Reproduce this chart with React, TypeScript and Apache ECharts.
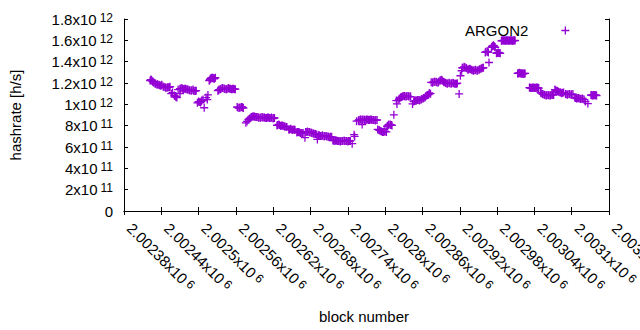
import React, { useEffect, useRef } from 'react';
import * as echarts from 'echarts';

const seriesName = 'ARGON2';
const xAxisTitle = 'block number';
const yAxisTitle = 'hashrate [h/s]';

const xMin = 2002380;
const xMax = 2003160;
const xStep = 60;
const yMin = 0;
const yMax = 1.8e12;
const yStep = 2e11;

// block numbers
const blocks = [
  2002422, 2002424, 2002426, 2002428,
  2002430, 2002433, 2002436, 2002439, 2002441,
  2002443, 2002446, 2002449, 2002452, 2002454,
  2002456, 2002458, 2002461, 2002463, 2002465, 2002470,
  2002467, 2002470, 2002473, 2002476, 2002479, 2002482, 2002485, 2002488, 2002491, 2002494, 2002496,
  2002498, 2002500, 2002503, 2002505, 2002507, 2002509, 2002512, 2002514, 2002515,
  2002517, 2002519, 2002521, 2002523, 2002525, 2002527,
  2002531, 2002533, 2002536, 2002539, 2002542, 2002545, 2002548, 2002551, 2002554, 2002556, 2002559,
  2002562, 2002565, 2002568, 2002570, 2002572,
  2002576, 2002578, 2002580, 2002582, 2002584, 2002587, 2002590, 2002593, 2002596, 2002599, 2002602, 2002605, 2002608, 2002611, 2002614, 2002617, 2002620, 2002622,
  2002626, 2002629, 2002632, 2002635, 2002638, 2002641,
  2002645, 2002648, 2002651, 2002654,
  2002658, 2002661, 2002664, 2002667, 2002671,
  2002672, 2002675, 2002678, 2002681, 2002684, 2002687, 2002690, 2002691,
  2002693, 2002696, 2002699, 2002702, 2002705, 2002708, 2002711, 2002714,
  2002716, 2002719, 2002722, 2002725, 2002728, 2002731, 2002734, 2002737, 2002740, 2002743, 2002747, 2002750, 2002751, 2002754,
  2002757, 2002760, 2002763, 2002763, 2002766, 2002769, 2002772, 2002775, 2002778, 2002781, 2002784, 2002787, 2002788,
  2002790, 2002793, 2002796, 2002799, 2002802,
  2002803, 2002805, 2002808, 2002811, 2002814, 2002818, 2002819,
  2002822, 2002825, 2002828, 2002831, 2002834, 2002837, 2002840, 2002844,
  2002846, 2002849, 2002852, 2002855, 2002858,
  2002861, 2002864, 2002867, 2002870, 2002871, 2002873, 2002874,
  2002876, 2002879, 2002882, 2002885, 2002888, 2002891, 2002894, 2002897, 2002900, 2002903, 2002906, 2002909, 2002912, 2002915, 2002919, 2002921, 2002923,
  2002924, 2002927, 2002930, 2002933, 2002936, 2002939, 2002942, 2002945, 2002948, 2002951, 2002954, 2002957,
  2002961, 2002964, 2002967, 2002966, 2002971, 2002974, 2002977, 2002979, 2002982, 2002985,
  2002987, 2002990, 2002993, 2002996, 2002999, 2003002, 2003005, 2003008,
  2003013, 2003016, 2003019, 2003022, 2003025,
  2003032, 2003035, 2003038, 2003041, 2003044, 2003047,
  2003050, 2003053, 2003056, 2003059, 2003062, 2003065, 2003068, 2003071,
  2003073, 2003076, 2003079,
  2003081, 2003084, 2003087,
  2003090, 2003093, 2003096, 2003099, 2003102,
  2003105, 2003108, 2003111, 2003114, 2003117, 2003120, 2003122, 2003126,
  2003131, 2003134, 2003137, 2003140,
];

// hashrate in units of 10^12 h/s
const hashrateE12 = [
  1.222, 1.231, 1.212, 1.203,
  1.194, 1.184, 1.184, 1.175, 1.184,
  1.166, 1.161, 1.156, 1.161, 1.166,
  1.100, 1.110, 1.082, 1.073, 1.063, 1.100,
  1.138, 1.147, 1.152, 1.142, 1.147, 1.138, 1.133, 1.128, 1.138, 1.124, 1.128,
  1.014, 1.026, 1.017, 1.035, 1.045, 0.968, 1.063, 1.045, 1.088,
  1.222, 1.240, 1.250, 1.250, 1.240, 1.250,
  1.128, 1.138, 1.147, 1.152, 1.147, 1.142, 1.152, 1.147, 1.142, 1.147, 1.142,
  0.975, 0.965, 0.970, 0.975, 0.965,
  0.827, 0.840, 0.858, 0.867, 0.877, 0.886, 0.886, 0.881, 0.877, 0.872, 0.881, 0.877, 0.872, 0.877, 0.872, 0.877, 0.867, 0.872,
  0.802, 0.811, 0.797, 0.802, 0.792, 0.788,
  0.765, 0.770, 0.760, 0.765,
  0.737, 0.741, 0.732, 0.727, 0.687,
  0.741, 0.746, 0.741, 0.737, 0.727, 0.723, 0.718, 0.671,
  0.709, 0.704, 0.709, 0.699, 0.704, 0.699, 0.690, 0.695,
  0.662, 0.657, 0.662, 0.657, 0.652, 0.657, 0.662, 0.657, 0.652, 0.657, 0.631, 0.716, 0.699, 0.842,
  0.849, 0.858, 0.811, 0.853, 0.858, 0.853, 0.858, 0.853, 0.858, 0.853, 0.849, 0.853, 0.765,
  0.760, 0.751, 0.741, 0.746, 0.741,
  0.792, 0.806, 0.811, 0.802, 0.902, 1.035, 1.004,
  1.045, 1.063, 1.073, 1.077, 1.073, 1.077, 1.073, 1.004,
  1.026, 1.035, 1.040, 1.035, 1.045,
  1.054, 1.063, 1.082, 1.091, 1.107, 1.100, 1.206,
  1.203, 1.212, 1.212, 1.203, 1.222, 1.231, 1.212, 1.203, 1.194, 1.203, 1.194, 1.203, 1.194, 1.194, 1.098, 1.268, 1.315,
  1.343, 1.352, 1.343, 1.325, 1.334, 1.325, 1.315, 1.325, 1.315, 1.325, 1.334, 1.343,
  1.487, 1.496, 1.392, 1.487, 1.534, 1.553, 1.534, 1.478, 1.487, 1.478,
  1.595, 1.600, 1.595, 1.600, 1.595, 1.600, 1.595, 1.600,
  1.290, 1.295, 1.290, 1.285, 1.290,
  1.157, 1.152, 1.157, 1.152, 1.157, 1.152,
  1.110, 1.096, 1.091, 1.082, 1.087, 1.082, 1.091, 1.087,
  1.138, 1.128, 1.119,
  1.114, 1.105, 1.110,
  1.096, 1.091, 1.096, 1.091, 1.096,
  1.063, 1.054, 1.059, 1.049, 1.054, 1.045, 1.026, 1.007,
  1.087, 1.082, 1.087, 1.082,
];

// further blocks inside the dense bands: [block number, hashrate in 10^12 h/s]
const denseBandPoints: [number, number][] = [
  [2002423, 1.231], [2002425, 1.222], [2002427, 1.212],
  [2002431, 1.194], [2002434, 1.189], [2002437, 1.180], [2002440, 1.180],
  [2002444, 1.166], [2002447, 1.156], [2002450, 1.161], [2002453, 1.161],
  [2002462, 1.077], [2002464, 1.068],
  [2002471, 1.147], [2002474, 1.147], [2002477, 1.147], [2002480, 1.142], [2002483, 1.138], [2002486, 1.133], [2002489, 1.133], [2002492, 1.128], [2002495, 1.128],
  [2002501, 1.021], [2002504, 1.026],
  [2002518, 1.231], [2002520, 1.245], [2002522, 1.245], [2002524, 1.245], [2002526, 1.245],
  [2002532, 1.133], [2002535, 1.142], [2002538, 1.152], [2002541, 1.147], [2002544, 1.142], [2002547, 1.147], [2002550, 1.147], [2002553, 1.142], [2002555, 1.147], [2002558, 1.142],
  [2002563, 0.970], [2002566, 0.970], [2002569, 0.975], [2002571, 0.970],
  [2002585, 0.881], [2002588, 0.886], [2002591, 0.881], [2002594, 0.881], [2002597, 0.877], [2002600, 0.877], [2002603, 0.877], [2002606, 0.877], [2002609, 0.872], [2002612, 0.877], [2002615, 0.872], [2002618, 0.872], [2002621, 0.872],
  [2002627, 0.806], [2002630, 0.806], [2002633, 0.802], [2002636, 0.797], [2002639, 0.792], [2002642, 0.788],
  [2002646, 0.765], [2002649, 0.765], [2002652, 0.765], [2002655, 0.760],
  [2002659, 0.741], [2002662, 0.737], [2002665, 0.732], [2002668, 0.732],
  [2002673, 0.741], [2002676, 0.741], [2002679, 0.737], [2002682, 0.732], [2002685, 0.727], [2002688, 0.723],
  [2002694, 0.709], [2002697, 0.704], [2002700, 0.704], [2002703, 0.704], [2002706, 0.699], [2002709, 0.695], [2002712, 0.695],
  [2002717, 0.662], [2002720, 0.662], [2002723, 0.657], [2002726, 0.657], [2002729, 0.657], [2002732, 0.657], [2002735, 0.657], [2002738, 0.657], [2002741, 0.657], [2002744, 0.657],
  [2002758, 0.853], [2002761, 0.858], [2002764, 0.858], [2002767, 0.853], [2002770, 0.858], [2002773, 0.853], [2002776, 0.858], [2002779, 0.853], [2002782, 0.853], [2002785, 0.853],
  [2002791, 0.755], [2002794, 0.746], [2002797, 0.741], [2002800, 0.746],
  [2002804, 0.797], [2002806, 0.811], [2002809, 0.806], [2002810, 0.806],
  [2002823, 1.054], [2002826, 1.068], [2002829, 1.077], [2002832, 1.073], [2002835, 1.077], [2002838, 1.073], [2002841, 1.073],
  [2002847, 1.031], [2002850, 1.035], [2002853, 1.040], [2002856, 1.040], [2002859, 1.049],
  [2002862, 1.059], [2002865, 1.073], [2002868, 1.087],
  [2002877, 1.208], [2002880, 1.212], [2002883, 1.208], [2002886, 1.212], [2002889, 1.226], [2002892, 1.222], [2002895, 1.208], [2002898, 1.198], [2002901, 1.198], [2002904, 1.198], [2002907, 1.198], [2002910, 1.198], [2002913, 1.194], [2002916, 1.198],
  [2002925, 1.343], [2002928, 1.348], [2002931, 1.338], [2002934, 1.329], [2002937, 1.329], [2002940, 1.320], [2002943, 1.320], [2002946, 1.320], [2002949, 1.320], [2002952, 1.329], [2002955, 1.338], [2002958, 1.343],
  [2002962, 1.492], [2002965, 1.492], [2002972, 1.543], [2002973, 1.548], [2002975, 1.548], [2002976, 1.539], [2002980, 1.482], [2002981, 1.482], [2002983, 1.482], [2002984, 1.482],
  [2002988, 1.598], [2002989, 1.598], [2002991, 1.598], [2002992, 1.598], [2002994, 1.598], [2002995, 1.598], [2002997, 1.598], [2002998, 1.598], [2003000, 1.598], [2003001, 1.598], [2003003, 1.598], [2003004, 1.598], [2003006, 1.598], [2003007, 1.598], [2003009, 1.598],
  [2003014, 1.290], [2003015, 1.292], [2003017, 1.292], [2003018, 1.290], [2003020, 1.288], [2003021, 1.288], [2003023, 1.288], [2003024, 1.290],
  [2003033, 1.155], [2003034, 1.155], [2003036, 1.155], [2003037, 1.155], [2003039, 1.155], [2003040, 1.155], [2003042, 1.155], [2003043, 1.155], [2003045, 1.155], [2003046, 1.155],
  [2003051, 1.105], [2003054, 1.094], [2003057, 1.087], [2003060, 1.085], [2003063, 1.085], [2003066, 1.085], [2003069, 1.089],
  [2003074, 1.133], [2003077, 1.124],
  [2003082, 1.110], [2003085, 1.108],
  [2003091, 1.094], [2003094, 1.094], [2003097, 1.094], [2003100, 1.094],
  [2003106, 1.059], [2003109, 1.056], [2003112, 1.054], [2003115, 1.052], [2003118, 1.050],
  [2003132, 1.085], [2003133, 1.085], [2003135, 1.085], [2003136, 1.085], [2003138, 1.085], [2003139, 1.085],
];

const FONT = '"Liberation Sans", Arial, sans-serif';
const COLOR = '#9400d3';
const PLUS = 'path://M0,3.35L8,3.35L8,4.65L0,4.65Z M3.35,0L4.65,0L4.65,8L3.35,8Z';

function sci(v: number): string {
  if (v === 0) return '{m|0}';
  const e = Math.floor(Math.log10(Math.abs(v)) + 1e-9);
  const m = parseFloat((v / Math.pow(10, e)).toFixed(6));
  return `{m|${m}x10}{s|${e}}`;
}

const richY = {
  m: { fontSize: 15, fontFamily: FONT, color: '#000', lineHeight: 15, verticalAlign: 'bottom' },
  s: { fontSize: 12, fontFamily: FONT, color: '#000', lineHeight: 12, verticalAlign: 'top', padding: [0, 0, 5, 3] },
};
const richX = {
  m: { fontSize: 15, fontFamily: FONT, color: '#000', lineHeight: 15, verticalAlign: 'bottom', padding: [0, 0, 0, 8] },
  s: { fontSize: 12, fontFamily: FONT, color: '#000', lineHeight: 12, verticalAlign: 'top', padding: [0, 0, 5, 3] },
};

export default function App() {
  const ref = useRef<HTMLDivElement>(null);
  useEffect(() => {
    if (!ref.current) return;
    const chart = echarts.init(ref.current, undefined, { renderer: 'svg' });
    const data = blocks
      .map((b, i) => [b, hashrateE12[i] * 1e12])
      .concat(denseBandPoints.map(([b, h]) => [b, h * 1e12]));
    const axisLine = { show: true, lineStyle: { color: '#000', width: 1 } };
    const tick = { show: true, inside: true, length: 4, lineStyle: { color: '#000', width: 1 } };
    chart.setOption({
      animation: false,
      backgroundColor: '#fff',
      grid: { left: 124, right: 31, top: 19, bottom: 119, containLabel: false, outerBoundsMode: 'none' },
      legend: {
        show: true,
        left: 465,
        top: 23,
        padding: 0,
        align: 'right',
        itemWidth: 64,
        itemHeight: 8,
        selectedMode: false,
        textStyle: { fontSize: 15, fontFamily: FONT, color: '#000' },
        data: [{ name: seriesName, icon: PLUS }],
      },
      xAxis: [
        {
          type: 'value',
          position: 'bottom',
          min: xMin,
          max: xMax,
          interval: xStep,
          axisLine,
          axisTick: tick,
          splitLine: { show: false },
          axisLabel: {
            show: true,
            rotate: -45,
            margin: 9,
            showMinLabel: true,
            showMaxLabel: true,
            formatter: (v: number) => sci(v),
            rich: richX,
          },
        },
        {
          type: 'value',
          position: 'top',
          min: xMin,
          max: xMax,
          interval: xStep,
          axisLine,
          axisTick: tick,
          splitLine: { show: false },
          axisLabel: { show: false },
        },
      ],
      yAxis: [
        {
          type: 'value',
          position: 'left',
          min: yMin,
          max: yMax,
          interval: yStep,
          axisLine,
          axisTick: tick,
          splitLine: { show: false },
          axisLabel: {
            show: true,
            margin: 11,
            showMinLabel: true,
            showMaxLabel: true,
            formatter: (v: number) => sci(v),
            rich: richY,
          },
        },
        {
          type: 'value',
          position: 'right',
          min: yMin,
          max: yMax,
          interval: yStep,
          axisLine,
          axisTick: tick,
          splitLine: { show: false },
          axisLabel: { show: false },
        },
      ],
      graphic: [
        {
          type: 'text',
          x: 15.5,
          y: 115,
          rotation: Math.PI / 2,
          style: { text: yAxisTitle, font: `15px ${FONT}`, fill: '#000', align: 'center', verticalAlign: 'middle' },
        },
        {
          type: 'text',
          x: 364,
          y: 316,
          style: { text: xAxisTitle, font: `15px ${FONT}`, fill: '#000', align: 'center', verticalAlign: 'middle' },
        },
      ],
      series: [
        {
          name: seriesName,
          type: 'scatter',
          xAxisIndex: 0,
          yAxisIndex: 0,
          symbol: PLUS,
          symbolSize: 8,
          itemStyle: { color: COLOR, opacity: 1 },
          silent: true,
          data,
        },
      ],
    });
    return () => chart.dispose();
  }, []);
  return <div ref={ref} style={{ position: 'absolute', left: 0, top: 0, width: 640, height: 330 }} />;
}
